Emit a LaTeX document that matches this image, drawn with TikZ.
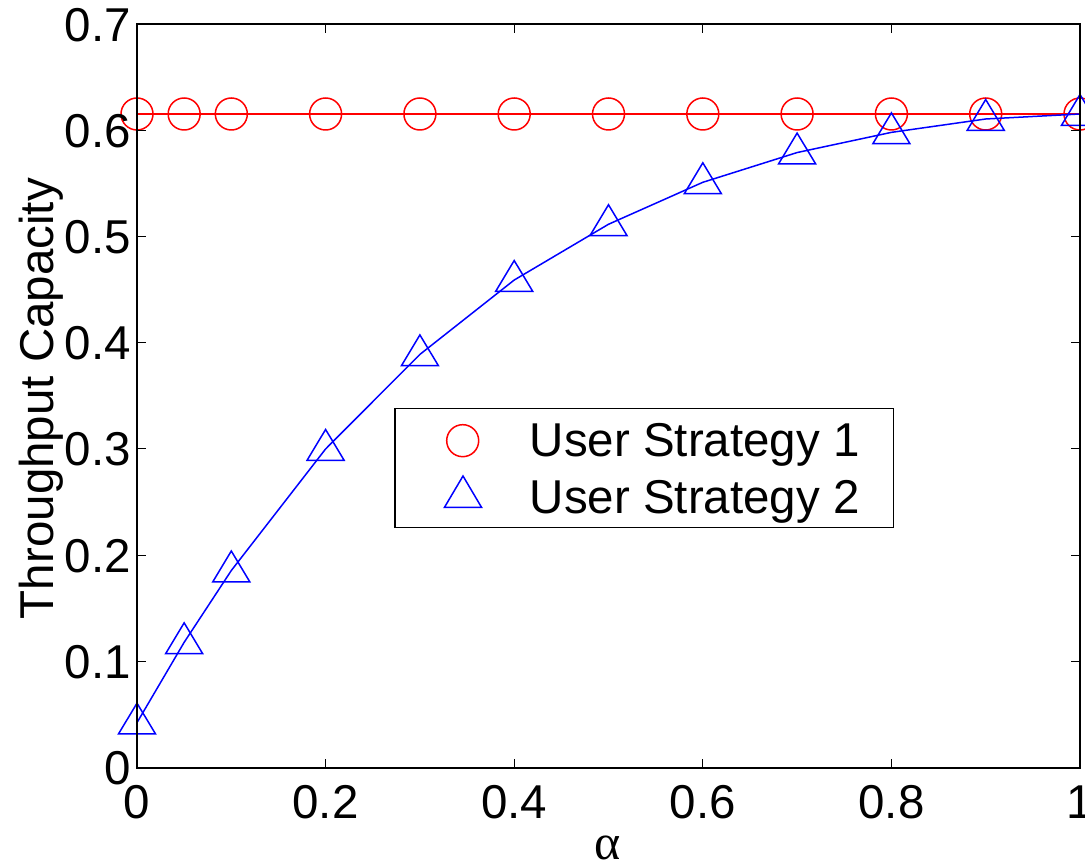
\documentclass[tikz,border=0pt]{standalone}
\usepackage{fontspec}
\setmainfont{Liberation Sans}
\newfontfamily\greekserif{Liberation Serif}
\definecolor{sred}{RGB}{255,0,0}
\definecolor{sblue}{RGB}{0,0,255}
\tikzset{
  ticklabel/.style={font=\fontsize{47.5}{50}\selectfont, inner sep=0pt},
  axisline/.style={draw=black, line width=2pt},
  tickmark/.style={draw=black, line width=1pt},
  redcurve/.style={draw=sred, line width=1.5pt},
  bluecurve/.style={draw=sblue, line width=1.5pt},
  redmark/.style={draw=sred, line width=1.5pt},
  bluemark/.style={draw=sblue, line width=1.5pt, line join=miter},
}
\newcommand{\circmark}[2]{\draw[redmark] (#1,#2) circle[radius=16pt];}
\newcommand{\trimark}[2]{\draw[bluemark] (#1,#2) ++(0pt,19.5pt) -- ++(18.5pt,-30.8pt) -- ++(-37pt,0pt) -- cycle;}
\begin{document}
\begin{tikzpicture}[x=1pt,y=1pt]
\useasboundingbox (0,0) rectangle (1085,866);
\fill[white] (0,0) rectangle (1085,866);

% data area: alpha in [0,1], capacity in [0,0.7]
\begin{scope}[shift={(137,98.3)}, x=943pt, y=1062.4pt]
  % strategy 1: constant capacity
  \draw[redcurve] (0,0.6153) -- (1,0.6153);
  \foreach \a in {0,0.05,0.1,0.2,0.3,0.4,0.5,0.6,0.7,0.8,0.9,1}
    {\circmark{\a}{0.6153}}
  % strategy 2
  \draw[bluecurve] (0,0.0424) -- (0.05,0.118) -- (0.1,0.1856) -- (0.2,0.300)
    -- (0.3,0.389) -- (0.4,0.459) -- (0.5,0.5115) -- (0.6,0.551)
    -- (0.7,0.579) -- (0.8,0.598) -- (0.9,0.6106) -- (1,0.6153);
  \foreach \a/\v in {0/0.0424,0.05/0.118,0.1/0.1856,0.2/0.300,0.3/0.389,
      0.4/0.459,0.5/0.5115,0.6/0.551,0.7/0.579,0.8/0.598,0.9/0.6106,1/0.6153}
    {\trimark{\a}{\v}}

  % ticks on all four sides
  \foreach \t in {0,0.2,0.4,0.6,0.8,1}{
    \draw[tickmark] (\t,0) -- ++(0pt,9pt);
    \draw[tickmark] (\t,0.7) -- ++(0pt,-9pt);
  }
  \foreach \t in {0,0.1,0.2,0.3,0.4,0.5,0.6,0.7}{
    \draw[tickmark] (0,\t) -- ++(9pt,0pt);
    \draw[tickmark] (1,\t) -- ++(-9pt,0pt);
  }
  % frame
  \draw[axisline] (0,0) rectangle (1,0.7);

  % tick labels
  \foreach \t/\l in {0/0,0.2/0.2,0.4/0.4,0.6/0.6,0.8/0.8,1/1}
    \node[ticklabel, anchor=base] (xl\l) at ([yshift=-51.3pt]\t,0) {\l};
  \foreach \t in {0,0.1,0.2,0.3,0.4,0.5,0.6,0.7}
    \node[ticklabel, anchor=base east] (yl\t) at ([xshift=-6pt,yshift=-17pt]0,\t) {\t};
\end{scope}

% axis titles
\node[ticklabel, rotate=90, anchor=base] (ytitle) at (53.3,467.4) {Throughput Capacity};
\node[inner sep=0pt, anchor=base, font=\greekserif\fontsize{50}{52}\selectfont] (xtitle) at (608,6) {α};

% legend
\draw[black, line width=1.5pt, fill=white] (395,457.7) rectangle (893.3,338.3);
\draw[redmark] (462.7,425.3) circle[radius=16pt];
\draw[bluemark] (463,390) -- ++(18.5pt,-31.3pt) -- ++(-37pt,0pt) -- cycle;
\node[ticklabel, anchor=base west] (leg1) at (529.5,409.3) {User Strategy 1};
\node[ticklabel, anchor=base west] (leg2) at (529.5,352) {User Strategy 2};
\end{tikzpicture}
\end{document}
